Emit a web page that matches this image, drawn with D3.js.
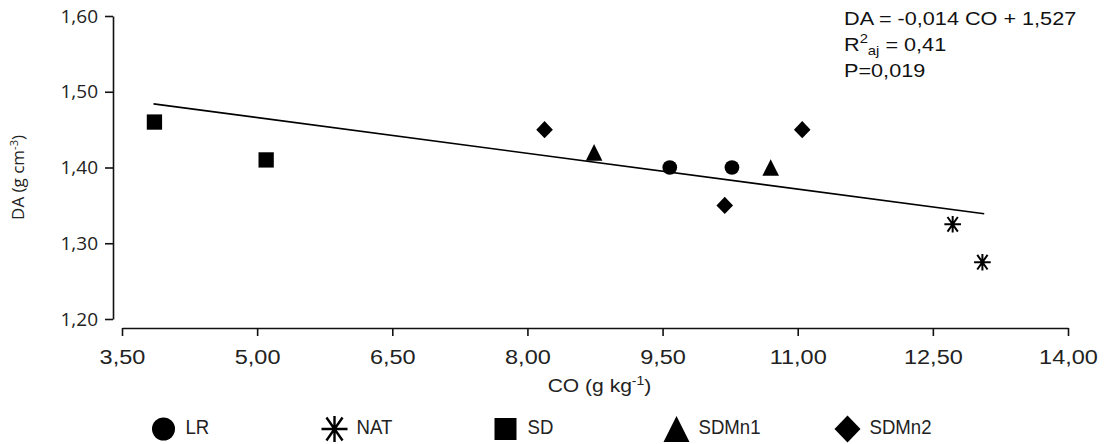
<!DOCTYPE html>
<html><head><meta charset="utf-8">
<script src="https://cdn.jsdelivr.net/npm/d3@7"></script>
<style>body{margin:0;background:#fff}svg{display:block}</style>
</head><body><svg id="c" width="1105" height="444"></svg>
<script>
// ---- data ----
const categories = ["LR", "NAT", "SD", "SDMn1", "SDMn2"];
const lrCO = [9.58, 10.27],           lrDA = [1.40, 1.40];
const natCO = [12.72, 13.05],         natDA = [1.325, 1.275];
const sdCO = [3.86, 5.10],            sdDA = [1.46, 1.41];
const sdmn1CO = [8.74, 10.70],        sdmn1DA = [1.42, 1.40];
const sdmn2CO = [8.19, 10.19, 11.05], sdmn2DA = [1.45, 1.35, 1.45];
const fitCO = [3.85, 13.07],          fitDA = [1.484, 1.339];
const xTicks = [3.5, 5, 6.5, 8, 9.5, 11, 12.5, 14];
const yTicks = [1.2, 1.3, 1.4, 1.5, 1.6];
const eqLine1 = "DA = -0,014 CO + 1,527";
const eqLine3 = "P=0,019";

const seriesCO = {LR: lrCO, NAT: natCO, SD: sdCO, SDMn1: sdmn1CO, SDMn2: sdmn2CO};
const seriesDA = {LR: lrDA, NAT: natDA, SD: sdDA, SDMn1: sdmn1DA, SDMn2: sdmn2DA};
const points = categories.flatMap(c => seriesCO[c].map((v, i) => ({g: c, co: v, da: seriesDA[c][i]})));

const svg = d3.select("#c");
const x = d3.scaleLinear([3.5, 14], [122, 1068]);
const y = d3.scaleLinear([1.2, 1.6], [319, 16]);
const fmt = v => d3.format(".2f")(v).replace(".", ",");
const SANS = "'Liberation Sans', Arial, sans-serif";
const HUM = "'Open Sans', 'Noto Sans', sans-serif";

function shape(type, s) {
  // s = nominal size (width) in px
  const h = s / 2;
  switch (type) {
    case "LR": return d3.symbol(d3.symbolCircle, Math.PI * h * h)();
    case "SD": return `M${-h},${-h}H${h}V${h}H${-h}Z`;
    case "SDMn1": return `M0,${-h}L${h},${h}L${-h},${h}Z`;
    case "SDMn2": return `M0,${-h * 1.04}L${h},0L0,${h * 1.04}L${-h},0Z`;
    case "NAT": {
      const a = h, dx = h * 0.62, dy = h * 0.88;
      return `M${-a},0H${a}M0,${-a}V${a}M${-dx},${-dy}L${dx},${dy}M${-dx},${dy}L${dx},${-dy}`;
    }
  }
}
function drawSym(sel, type, s, sw) {
  const p = sel.append("path").attr("d", shape(type, s));
  if (type === "NAT") p.attr("fill", "none").attr("stroke", "#000").attr("stroke-width", sw);
  else p.attr("fill", "#000");
}

// ---- axes ----
const gx = svg.append("g").attr("transform", "translate(0,328)")
  .call(d3.axisBottom(x).tickValues(xTicks).tickFormat(fmt).tickSize(8).tickSizeOuter(0).tickPadding(13));
gx.selectAll("text").attr("font-family", SANS).attr("font-size", 21).attr("fill", "#222")
  .attr("transform", "scale(1.12,1)");
gx.selectAll("path,line").attr("stroke", "#111").attr("stroke-width", 1.6);

const gy = svg.append("g").attr("transform", "translate(113,0)")
  .call(d3.axisLeft(y).tickValues(yTicks).tickFormat(fmt).tickSize(8).tickSizeOuter(0).tickPadding(7));
gy.selectAll("text").attr("font-family", HUM).attr("font-size", 19).attr("fill", "#222");
gy.selectAll("path,line").attr("stroke", "#111").attr("stroke-width", 1.6);

// axis titles
const xt = svg.append("text").attr("transform", "translate(599.5,392) scale(1.17,1)")
  .attr("text-anchor", "middle").attr("font-family", SANS).attr("font-size", 18).attr("fill", "#222");
xt.append("tspan").text("CO (g kg");
xt.append("tspan").attr("dy", -7).attr("font-size", 12).text("-1");
xt.append("tspan").attr("dy", 7).text(")");

const yt = svg.append("text").attr("transform", "translate(24,177.5) rotate(-90)")
  .attr("text-anchor", "middle").attr("font-family", HUM).attr("font-size", 17).attr("fill", "#222");
yt.append("tspan").text("DA (g cm");
yt.append("tspan").attr("dy", -6).attr("font-size", 11).text("-3");
yt.append("tspan").attr("dy", 6).text(")");

// ---- regression line ----
svg.append("path")
  .attr("d", d3.line()(fitCO.map((c, i) => [x(c), y(fitDA[i])])))
  .attr("stroke", "#000").attr("stroke-width", 1.6).attr("fill", "none");

// ---- points ----
points.forEach(p => {
  const g = svg.append("g").attr("transform", `translate(${x(p.co)},${y(p.da)})`);
  const s = p.g === "LR" ? 14.7 : p.g === "SD" ? 15.3 : 16.6;
  drawSym(g, p.g, s, 2);
});

// ---- equation ----
const eq = svg.append("g").attr("transform", "translate(844,0)")
  .attr("font-family", SANS).attr("font-size", 19).attr("fill", "#111");
eq.append("text").attr("transform", "translate(0,25) scale(1.14,1)").text(eqLine1);
const r2 = eq.append("text").attr("transform", "translate(0,51) scale(1.14,1)");
r2.append("tspan").text("R");
r2.append("tspan").attr("dy", -8).attr("font-size", 13).text("2");
r2.append("tspan").attr("dy", 12).attr("font-size", 13).text("aj");
r2.append("tspan").attr("dy", -4).text(" = 0,41");
eq.append("text").attr("transform", "translate(0,77) scale(1.14,1)").text(eqLine3);

// ---- legend ----
const lx = d3.scalePoint(categories, [163.5, 847.5]);
categories.forEach(c => {
  const g = svg.append("g").attr("transform", `translate(${lx(c)},429)`);
  const s = c === "LR" ? 23 : c === "SD" ? 22 : 26;
  drawSym(g, c, s, 2.4);
  svg.append("text").attr("transform", `translate(${lx(c) + 22},434) scale(0.93,1)`)
    .attr("font-family", SANS).attr("font-size", 20).attr("fill", "#222").text(c);
});
</script></body></html>
